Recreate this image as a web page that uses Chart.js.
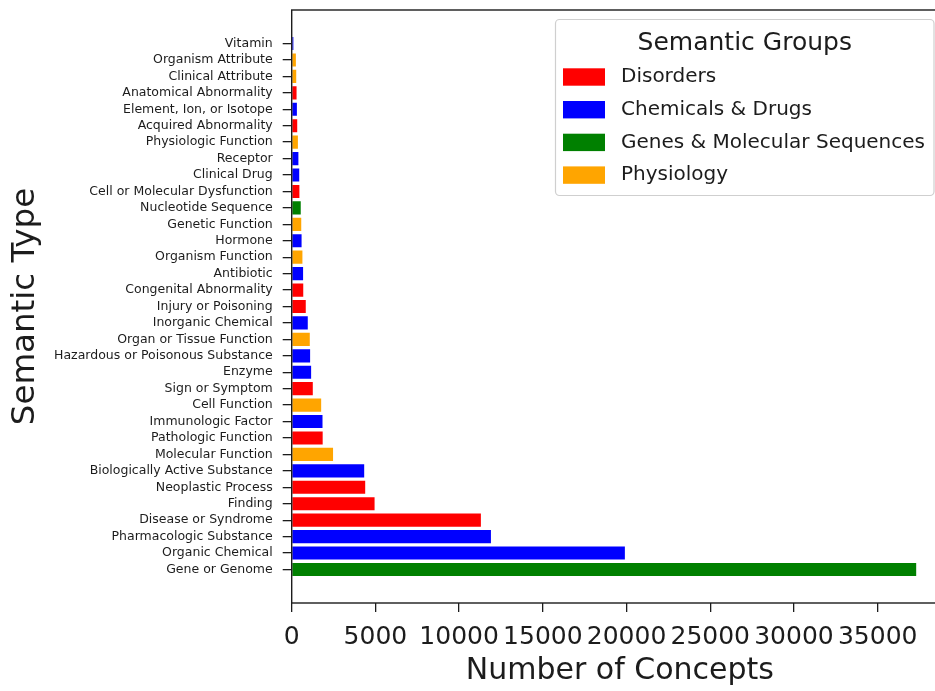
<!DOCTYPE html>
<html>
<head>
<meta charset="utf-8">
<title>Semantic Types by Number of Concepts</title>
<script src="https://cdn.jsdelivr.net/npm/chart.js@4/dist/chart.umd.min.js"></script>
<style>
  html, body { margin: 0; padding: 0; background: #ffffff; overflow: hidden; }
  canvas { display: block; }
</style>
</head>
<body>
<canvas id="chart" width="948" height="691"></canvas>
<script>
// Semantic types, listed from the bottom bar upwards (largest first)
const categories = [
  "Gene or Genome", "Organic Chemical", "Pharmacologic Substance", "Disease or Syndrome",
  "Finding", "Neoplastic Process", "Biologically Active Substance", "Molecular Function",
  "Pathologic Function", "Immunologic Factor", "Cell Function", "Sign or Symptom",
  "Enzyme", "Hazardous or Poisonous Substance", "Organ or Tissue Function", "Inorganic Chemical",
  "Injury or Poisoning", "Congenital Abnormality", "Antibiotic", "Organism Function",
  "Hormone", "Genetic Function", "Nucleotide Sequence", "Cell or Molecular Dysfunction",
  "Clinical Drug", "Receptor", "Physiologic Function", "Acquired Abnormality",
  "Element, Ion, or Isotope", "Anatomical Abnormality", "Clinical Attribute", "Organism Attribute",
  "Vitamin"
];

// Number of concepts per semantic type
const conceptCounts = [
  37300, 19900, 11900, 11300,
  4950, 4390, 4330, 2470,
  1850, 1840, 1760, 1260,
  1160, 1100, 1080, 960,
  840, 690, 680, 640,
  590, 570, 540, 460,
  450, 400, 370, 330,
  310, 290, 270, 250,
  100
];

// Semantic group of each type (same order as categories)
const semanticGroup = [
  "Genes & Molecular Sequences", "Chemicals & Drugs", "Chemicals & Drugs", "Disorders",
  "Disorders", "Disorders", "Chemicals & Drugs", "Physiology",
  "Disorders", "Chemicals & Drugs", "Physiology", "Disorders",
  "Chemicals & Drugs", "Chemicals & Drugs", "Physiology", "Chemicals & Drugs",
  "Disorders", "Disorders", "Chemicals & Drugs", "Physiology",
  "Chemicals & Drugs", "Physiology", "Genes & Molecular Sequences", "Disorders",
  "Chemicals & Drugs", "Chemicals & Drugs", "Physiology", "Disorders",
  "Chemicals & Drugs", "Disorders", "Physiology", "Physiology",
  "Chemicals & Drugs"
];

const groupNames = ["Disorders", "Chemicals & Drugs", "Genes & Molecular Sequences", "Physiology"];
const groupColors = ["#ff0000", "#0000ff", "#008000", "#ffa500"];

const xTicks = [0, 5000, 10000, 15000, 20000, 25000, 30000, 35000];

const colorOf = g => groupColors[groupNames.indexOf(g)];
const FONT = "'DejaVu Sans', 'Liberation Sans', sans-serif";
const INK = "#1c1c1c";

// Frame around the plotting area (all four spines)
const framePlugin = {
  id: 'frame',
  afterDatasetsDraw(chart) {
    const { ctx, chartArea: a } = chart;
    ctx.save();
    ctx.strokeStyle = INK;
    ctx.lineWidth = 1.4;
    ctx.strokeRect(a.left, a.top, a.right - a.left, a.bottom - a.top);
    ctx.restore();
  }
};

// Legend box in the upper right corner of the plot
const groupLegend = {
  id: 'groupLegend',
  afterDraw(chart) {
    const { ctx } = chart;
    const box = { x: 555.5, y: 19.5, w: 378.5, h: 176 };
    ctx.save();
    ctx.fillStyle = "rgba(255,255,255,0.85)";
    ctx.strokeStyle = "#cfcfcf";
    ctx.lineWidth = 1.2;
    ctx.beginPath();
    ctx.roundRect(box.x, box.y, box.w, box.h, 4);
    ctx.fill();
    ctx.stroke();

    ctx.fillStyle = INK;
    ctx.textBaseline = "middle";
    ctx.textAlign = "center";
    ctx.font = "25px " + FONT;
    ctx.fillText("Semantic Groups", box.x + box.w / 2, 43);

    ctx.textAlign = "left";
    ctx.font = "20px " + FONT;
    groupNames.forEach((name, i) => {
      const cy = 77 + i * 32.7;
      ctx.fillStyle = groupColors[i];
      ctx.fillRect(563, cy - 8.7, 42, 17.4);
      ctx.fillStyle = INK;
      ctx.fillText(name, 621, cy);
    });
    ctx.restore();
  }
};

new Chart(document.getElementById('chart'), {
  type: 'bar',
  data: {
    datasets: [{
      data: conceptCounts.map((v, i) => ({ x: v, y: i })),
      backgroundColor: semanticGroup.map(colorOf),
      borderWidth: 0,
      barPercentage: 0.8,
      categoryPercentage: 1.0
    }]
  },
  options: {
    indexAxis: 'y',
    responsive: false,
    animation: false,
    layout: { padding: { top: 10, right: 0, bottom: 0, left: 0 } },
    plugins: { legend: { display: false }, tooltip: { enabled: false } },
    scales: {
      x: {
        type: 'linear',
        min: 0,
        max: 39200,
        afterBuildTicks: s => { s.ticks = xTicks.map(v => ({ value: v })); },
        afterFit: s => { s.height = 88; s.paddingLeft = 0; s.paddingRight = 0; },
        border: { display: false },
        grid: { drawOnChartArea: false, drawTicks: true, tickLength: 9, color: INK, lineWidth: 1.3 },
        ticks: {
          autoSkip: false, maxRotation: 0, minRotation: 0, padding: 10,
          color: INK, font: { family: FONT, size: 25 },
          callback: v => String(v)
        },
        title: {
          display: true, text: "Number of Concepts", color: INK,
          font: { family: FONT, size: 30 }, padding: { top: 0, bottom: 2 }
        }
      },
      y: {
        type: 'linear',
        min: -2.04,
        max: 34.04,
        offset: false,
        afterBuildTicks: s => { s.ticks = categories.map((_, i) => ({ value: i })); },
        afterFit: s => { s.width = 291.7; s.paddingTop = 0; s.paddingBottom = 0; },
        border: { display: false },
        grid: { offset: false, drawOnChartArea: false, drawTicks: true, tickLength: 9, color: INK, lineWidth: 1.3 },
        ticks: {
          autoSkip: false, padding: 10,
          color: INK, font: { family: FONT, size: 12.5 },
          callback: v => categories[v]
        },
        title: {
          display: true, text: "Semantic Type", color: INK,
          font: { family: FONT, size: 32.5 }, padding: { top: 6, bottom: 0 }
        }
      }
    }
  },
  plugins: [framePlugin, groupLegend]
});
</script>
</body>
</html>
